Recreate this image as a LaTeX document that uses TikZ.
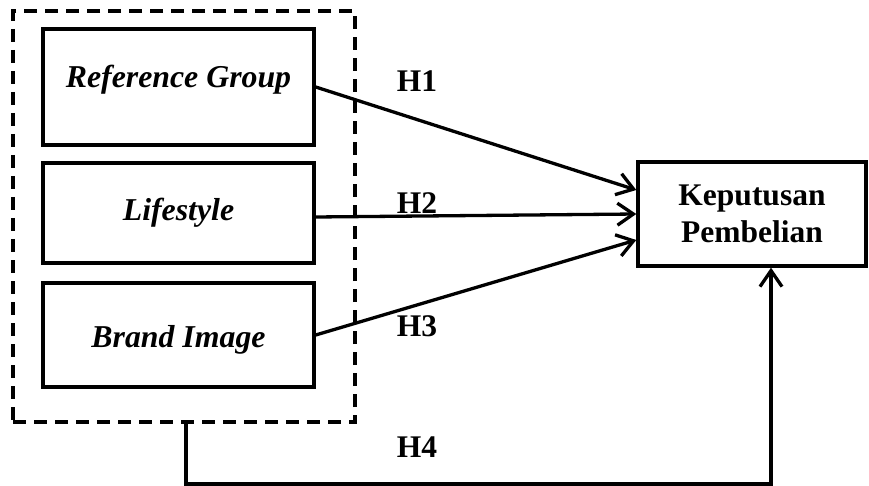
\documentclass[tikz,border=0pt]{standalone}
\usepackage{fontspec}
\setmainfont{Liberation Serif}
\usetikzlibrary{arrows.meta}
\begin{document}
\begin{tikzpicture}[x=1pt,y=-1pt,
  box/.style={draw,line width=3.4pt,minimum width=271pt,inner sep=0pt},
  grpbox/.style={draw,line width=3.5pt,dash pattern=on 13pt off 8pt,inner sep=0pt,minimum width=342pt,minimum height=411pt},
  lbl/.style={font=\fontsize{31.8}{38}\selectfont\bfseries\itshape,anchor=base,inner sep=0pt},
  hlbl/.style={font=\fontsize{31.5}{38}\selectfont\bfseries,anchor=base,inner sep=0pt},
  arr/.style={line width=3.3pt,-{Straight Barb[length=16pt,width=22pt,line width=3.3pt]}}]
\useasboundingbox (0,0) rectangle (869,486);
\node[grpbox] (grp) at (184,216.5) {};
\node[box,minimum height=116pt] (rg) at (178.5,87) {};
\node[box,minimum height=100pt] (ls) at (178.5,213) {};
\node[box,minimum height=104pt] (bi) at (178.5,335) {};
\node[lbl] (trg) at (178.5,88) {Reference Group};
\node[lbl] (tls) at (178.5,221) {Lifestyle};
\node[lbl] (tbi) at (178.5,347) {Brand Image};
\node[draw,line width=3.4pt,minimum width=228pt,minimum height=104pt,align=center,
  font=\fontsize{31.5}{37}\selectfont\bfseries,inner sep=0pt] (kp) at (752,214) {Keputusan\\Pembelian};
\node[hlbl] (h1) at (417,92) {H1};
\node[hlbl] (h2) at (417,214) {H2};
\node[hlbl] (h3) at (417,336) {H3};
\node[hlbl] (h4) at (417,457) {H4};
\draw[arr] (rg.east) -- ([yshift=24pt]kp.west);
\draw[arr] ([yshift=-4pt]ls.east) -- (kp.west);
\draw[arr] (bi.east) -- ([yshift=-26pt]kp.west);
\coordinate (c4) at (771,484);
\draw[arr] ([xshift=2pt]grp.south) |- (c4) -- ([xshift=19pt]kp.south);
\end{tikzpicture}
\end{document}
